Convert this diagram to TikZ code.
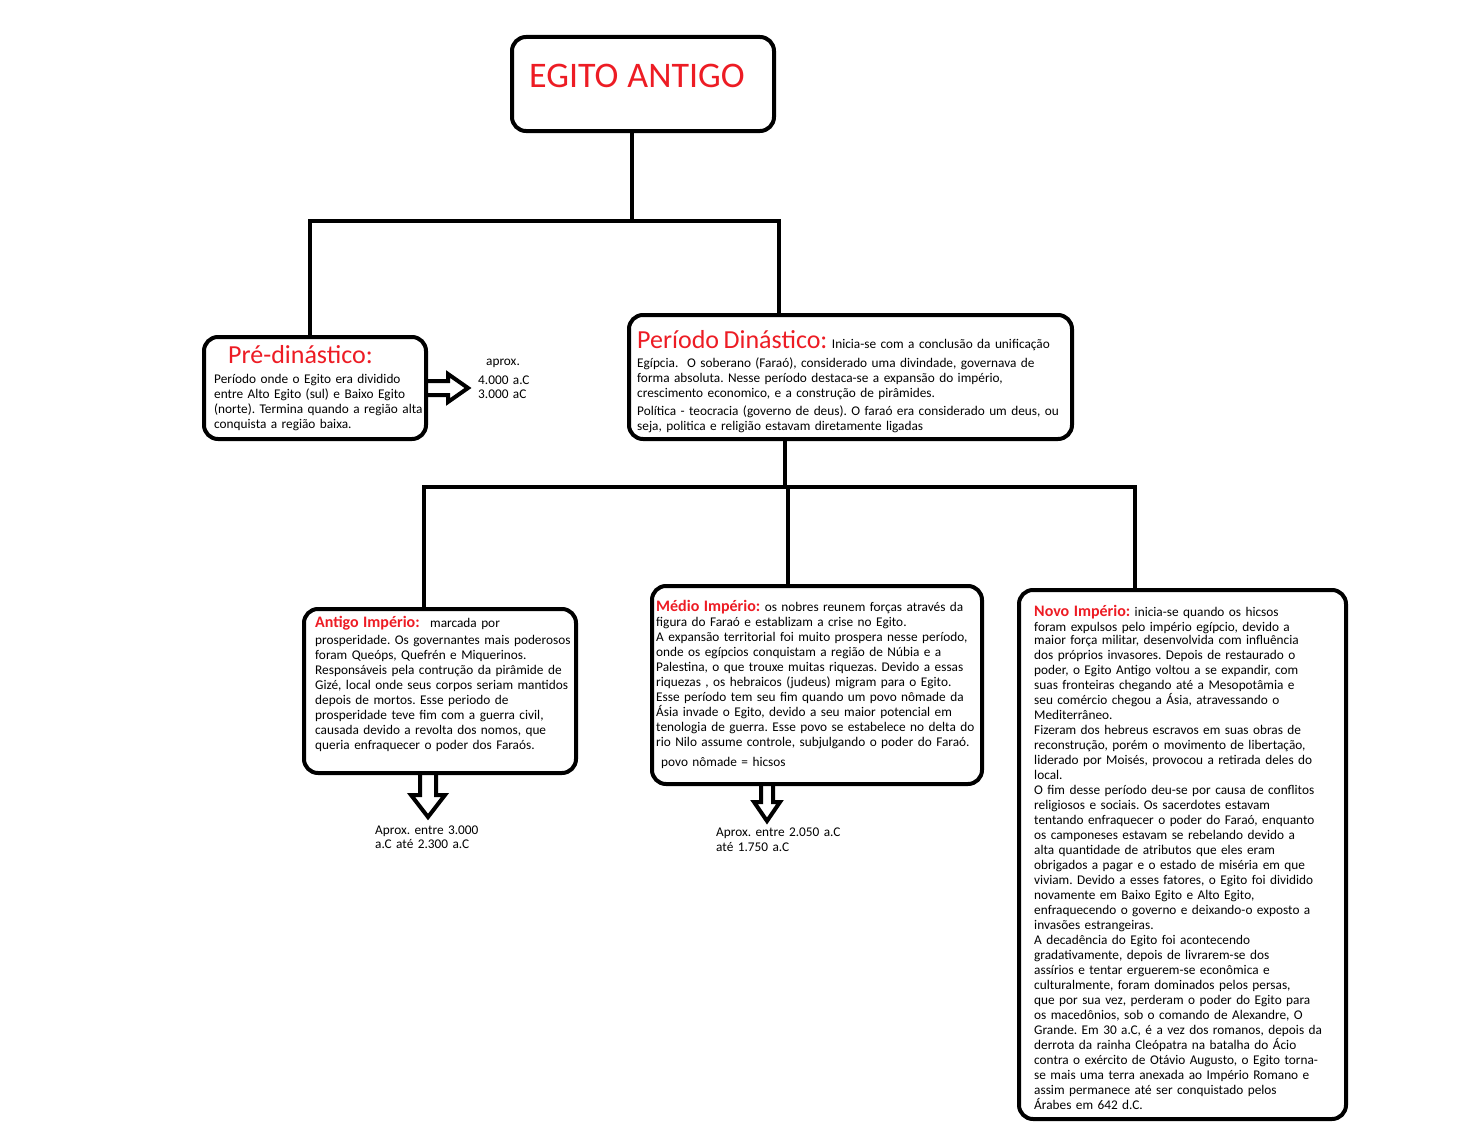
\documentclass[tikz,border=0pt]{standalone}
\usepackage{fontspec}
\setmainfont{Carlito}
\usepackage{xcolor}
\usepackage{tikz}
\definecolor{paintred}{RGB}{237,28,36}
\newcommand{\corpo}{\fontsize{13.3}{15}\selectfont\frenchspacing}
\newcommand{\destaque}[1]{{\fontsize{16}{15}\selectfont\bfseries\color{paintred}#1}}
\newcommand{\grande}[2]{{\fontsize{#1}{15}\selectfont\color{paintred}#2}}

\begin{document}
\begin{tikzpicture}[x=1pt, y=-1pt, font=\corpo]
    \tikzstyle{box}=[draw, line width=4pt, rounded corners=14pt, anchor=north west,
      inner sep=0pt, outer sep=0pt]
    \tikzstyle{txt}=[anchor=base west, inner sep=0pt, align=left, text width=460pt]
    \tikzstyle{tree}=[line width=4pt]
    \tikzstyle{hollow}=[line width=4pt, line join=miter]

    \fill[white] (0,0) rectangle (1473,1132);
    \useasboundingbox (0,0) rectangle (1473,1132);

    \node[box, minimum width=262pt, minimum height=94pt] (egito) at (512,37) {};
    \node[txt] (egito-txt) at (529,88) {\grande{36}{EGITO\hspace{9pt}ANTIGO}};

    \node[box, minimum width=222pt, minimum height=102pt] (pre) at (204,337) {};
    \node[txt] (pre-txt) at (214,363)
      {\hspace*{14pt}\grande{26}{Pré-dinástico:}\\[5pt]
       Período onde o Egito era dividido\\
       entre Alto Egito (sul) e Baixo Egito\\
       (norte). Termina quando a região alta\\
       conquista a região baixa.};

    \node[box, minimum width=443pt, minimum height=124pt] (dinastico) at (629,315) {};
    \node[txt] (dinastico-txt) at (637,348)
      {\grande{26}{Período Dinástico:\ }Inicia-se com a conclusão da unificação\\[4pt]
       Egípcia.\ \ O soberano (Faraó), considerado uma divindade, governava de\\
       forma absoluta. Nesse período destaca-se a expansão do império,\\
       crescimento economico, e a construção de pirâmides.\\[3pt]
       Política - teocracia (governo de deus). O faraó era considerado um deus, ou\\
       seja, politica e religião estavam diretamente ligadas};

    \node[box, minimum width=272pt, minimum height=164pt] (antigo) at (304,609) {};
    \node[txt] (antigo-txt) at (315,627.7)
      {\destaque{Antigo Império:}\hspace{6pt} marcada por\\[1.5pt]
       prosperidade. Os governantes mais poderosos\\
       foram Queóps, Quefrén e Miquerinos.\\
       Responsáveis pela contrução da pirâmide de\\
       Gizé, local onde seus corpos seriam mantidos\\
       depois de mortos. Esse periodo de\\
       prosperidade teve fim com a guerra civil,\\
       causada devido a revolta dos nomos, que\\
       queria enfraquecer o poder dos Faraós.};

    \node[box, minimum width=330pt, minimum height=198pt] (medio) at (652,586) {};
    \node[txt] (medio-txt) at (656,611)
      {\destaque{Médio Império:} os nobres reunem forças através da\\
       figura do Faraó e establizam a crise no Egito.\\
       A expansão territorial foi muito prospera nesse período,\\
       onde os egípcios conquistam a região de Núbia e a\\
       Palestina, o que trouxe muitas riquezas. Devido a essas\\
       riquezas , os hebraicos (judeus) migram para o Egito.\\
       Esse período tem seu fim quando um povo nômade da\\
       Ásia invade o Egito, devido a seu maior potencial em\\
       tenologia de guerra. Esse povo se estabelece no delta do\\
       rio Nilo assume controle, subjulgando o poder do Faraó.\\[5pt]
       \hspace*{5pt}povo nômade = hicsos};

    \node[box, minimum width=327pt, minimum height=529pt] (novo) at (1019,590) {};
    \node[txt] (novo-txt) at (1034,616.7)
      {\destaque{Novo Império:} inicia-se quando os hicsos\\
       foram expulsos pelo império egípcio, devido a\\[-2.4pt]
       maior força militar, desenvolvida com influência\\
       dos próprios invasores. Depois de restaurado o\\
       poder, o Egito Antigo voltou a se expandir, com\\
       suas fronteiras chegando até a Mesopotâmia e\\
       seu comércio chegou a Ásia, atravessando o\\
       Mediterrâneo.\\
       Fizeram dos hebreus escravos em suas obras de\\
       reconstrução, porém o movimento de libertação,\\
       liderado por Moisés, provocou a retirada deles do\\
       local.\\
       O fim desse período deu-se por causa de conflitos\\
       religiosos e sociais. Os sacerdotes estavam\\
       tentando enfraquecer o poder do Faraó, enquanto\\
       os camponeses estavam se rebelando devido a\\
       alta quantidade de atributos que eles eram\\
       obrigados a pagar e o estado de miséria em que\\
       viviam. Devido a esses fatores, o Egito foi dividido\\
       novamente em Baixo Egito e Alto Egito,\\
       enfraquecendo o governo e deixando-o exposto a\\
       invasões estrangeiras.\\
       A decadência do Egito foi acontecendo\\
       gradativamente, depois de livrarem-se dos\\
       assírios e tentar erguerem-se econômica e\\
       culturalmente, foram dominados pelos persas,\\
       que por sua vez, perderam o poder do Egito para\\
       os macedônios, sob o comando de Alexandre, O\\
       Grande. Em 30 a.C, é a vez dos romanos, depois da\\
       derrota da rainha Cleópatra na batalha do Ácio\\
       contra o exército de Otávio Augusto, o Egito torna-\\
       se mais uma terra anexada ao Império Romano e\\
       assim permanece até ser conquistado pelos\\
       Árabes em 642 d.C.};

    \node[txt] (pre-data) at (478,365)
      {\hspace*{8pt}aprox.\\[4pt] 4.000 a.C\\[-1pt] 3.000 aC};
    \node[txt] (antigo-data) at (375,834)
      {Aprox. entre 3.000\\[-1pt] a.C até 2.300 a.C};
    \node[txt] (medio-data) at (716,836.7)
      {Aprox. entre 2.050 a.C\\ até 1.750 a.C};

    \draw[tree] ([xshift=-11pt]egito.south) -- ++(0,90) coordinate (ramo1);
    \draw[tree] ([xshift=-5pt]pre.north) |- (ramo1) -| ([xshift=-71.5pt]dinastico.north);
    \draw[tree] ([xshift=-65.5pt]dinastico.south) -- ++(0,48) coordinate (ramo2);
    \draw[tree] ([xshift=-16pt]antigo.north) |- (ramo2) -| ([xshift=-47.5pt]novo.north);
    \draw[tree] ([xshift=-29pt]medio.north) |- (ramo2);

    \draw[hollow] (pre.east) ++(0,-7) -- ++(22,0) -- ++(0,-7) -- ++(20,14)
      -- ++(-20,14) -- ++(0,-7) -- ++(-22,0);
    \draw[hollow] (antigo.south) ++(-20,0) -- ++(0,22) -- ++(-9,0) -- ++(17,22)
      -- ++(17,-22) -- ++(-9,0) -- ++(0,-22);
    \draw[hollow] (medio.south) ++(-56,0) -- ++(0,18) -- ++(-7,0) -- ++(13,19)
      -- ++(13,-19) -- ++(-7,0) -- ++(0,-18);
\end{tikzpicture}
\end{document}
